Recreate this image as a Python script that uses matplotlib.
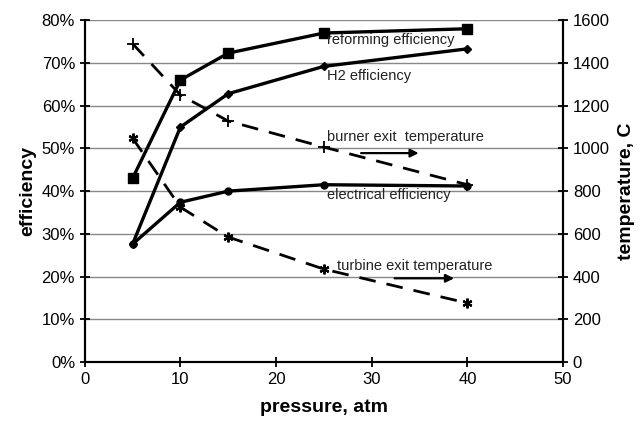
import matplotlib.pyplot as plt
from matplotlib.ticker import PercentFormatter

plt.rcParams['font.family'] = ['Liberation Sans', 'DejaVu Sans']

# pressure, atm
pressure = [5, 10, 15, 25, 40]
# efficiencies, %
reforming_eff = [43, 66, 72.3, 77, 78]
h2_eff = [27.6, 55, 62.8, 69.2, 73.3]
electrical_eff = [27.6, 37.4, 40, 41.5, 41.2]
# temperatures, C
burner_temp = [1490, 1250, 1128, 1006, 830]
turbine_temp = [1048, 725, 585, 435, 276]

fig = plt.figure(figsize=(6.42, 4.21), dpi=100)
ax = fig.add_axes([0.132, 0.140, 0.745, 0.812])
ax2 = ax.twinx()

ax.plot(pressure, reforming_eff, 'k-', marker='s', ms=6.5, lw=2.4)
ax.plot(pressure, h2_eff, 'k-', marker='D', ms=4, lw=2.4)
ax.plot(pressure, electrical_eff, 'k-', marker='o', ms=5, lw=2.4)
ax2.plot(pressure, burner_temp, 'k--', marker='+', ms=8, mew=1.3, lw=2, dashes=(6, 4))
ax2.plot(pressure, turbine_temp, 'k--', marker=(6, 2, 0), ms=7, mew=1.6, lw=2, dashes=(6, 4))

ax.set_xlim(0, 50)
ax.set_ylim(0, 80)
ax2.set_ylim(0, 1600)
ax.set_xticks(range(0, 51, 10))
ax.set_yticks(range(0, 81, 10))
ax2.set_yticks(range(0, 1601, 200))
ax.yaxis.set_major_formatter(PercentFormatter(decimals=0))
ax.grid(axis='y', color='#888888', lw=1)
ax.set_axisbelow(True)

for a in (ax, ax2):
    a.spines['top'].set_visible(False)
    for s in ('left', 'bottom', 'right'):
        a.spines[s].set_linewidth(1.5)
    a.tick_params(direction='inout', length=7, width=1.3, labelsize=12)

ax.set_xlabel('pressure, atm', fontsize=14, fontweight='bold', labelpad=9)
ax.set_ylabel('efficiency', fontsize=14, fontweight='bold', labelpad=4)
ax2.set_ylabel('temperature, C', fontsize=14, fontweight='bold', labelpad=6)

txt = dict(fontsize=10.5, va='center', ha='left', color='#222222')
ax.text(25.3, 75.4, 'reforming efficiency', **txt)
ax.text(25.3, 66.9, 'H2 efficiency', **txt)
ax.text(25.3, 52.6, 'burner exit  temperature', **txt)
ax.text(25.3, 39.0, 'electrical efficiency', **txt)
ax.text(26.4, 22.5, 'turbine exit temperature', **txt)

arrow = dict(arrowstyle='-|>', color='k', lw=1.6, mutation_scale=12)
ax.annotate('', xy=(35.2, 48.9), xytext=(28.6, 48.9), arrowprops=arrow)
ax.annotate('', xy=(38.9, 19.6), xytext=(32.1, 19.6), arrowprops=arrow)

fig.savefig('out.png', dpi=100)
